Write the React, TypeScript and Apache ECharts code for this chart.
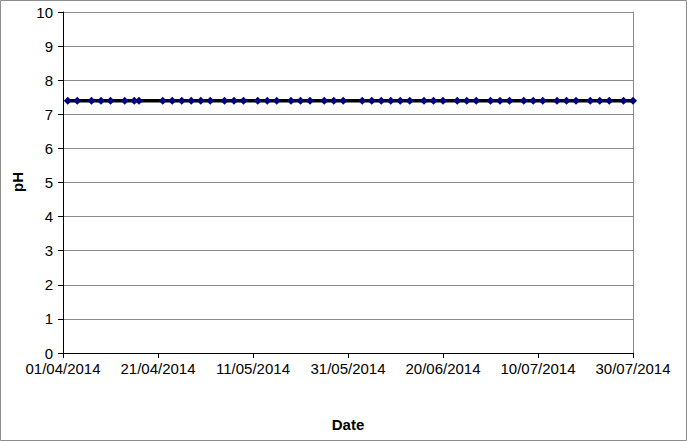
import React, { useEffect, useRef } from "react";
import * as echarts from "echarts";

const sampleDates: string[] = [
  "2014-04-02", "2014-04-04", "2014-04-07", "2014-04-09", "2014-04-11", "2014-04-14",
  "2014-04-16", "2014-04-17", "2014-04-22", "2014-04-24", "2014-04-26", "2014-04-28",
  "2014-04-30", "2014-05-02", "2014-05-05", "2014-05-07", "2014-05-09", "2014-05-12",
  "2014-05-14", "2014-05-16", "2014-05-19", "2014-05-21", "2014-05-23", "2014-05-26",
  "2014-05-28", "2014-05-30", "2014-06-03", "2014-06-05", "2014-06-07", "2014-06-09",
  "2014-06-11", "2014-06-13", "2014-06-16", "2014-06-18", "2014-06-20", "2014-06-23",
  "2014-06-25", "2014-06-27", "2014-06-30", "2014-07-02", "2014-07-04", "2014-07-07",
  "2014-07-09", "2014-07-11", "2014-07-14", "2014-07-16", "2014-07-18", "2014-07-21",
  "2014-07-23", "2014-07-25", "2014-07-28", "2014-07-30",
];

const phValues: number[] = [
  7.4, 7.4, 7.4, 7.4, 7.4, 7.4, 7.4, 7.4, 7.4, 7.4, 7.4, 7.4, 7.4,
  7.4, 7.4, 7.4, 7.4, 7.4, 7.4, 7.4, 7.4, 7.4, 7.4, 7.4, 7.4, 7.4,
  7.4, 7.4, 7.4, 7.4, 7.4, 7.4, 7.4, 7.4, 7.4, 7.4, 7.4, 7.4, 7.4,
  7.4, 7.4, 7.4, 7.4, 7.4, 7.4, 7.4, 7.4, 7.4, 7.4, 7.4, 7.4, 7.4,
];

const axisStart = "2014-04-01";
const axisEnd = "2014-07-30";
const tickStepDays = 20;
const yMin = 0;
const yMax = 10;
const yStep = 1;

const DAY = 86400000;
const toDay = (s: string) => {
  const [y, m, d] = s.split("-").map(Number);
  return Math.round((Date.UTC(y, m - 1, d) - Date.UTC(2014, 3, 1)) / DAY);
};
const fmtDay = (v: number) => {
  const dt = new Date(Date.UTC(2014, 3, 1) + v * DAY);
  const dd = String(dt.getUTCDate()).padStart(2, "0");
  const mm = String(dt.getUTCMonth() + 1).padStart(2, "0");
  return `${dd}/${mm}/${dt.getUTCFullYear()}`;
};

const FONT = "'Liberation Sans', Arial, sans-serif";

export default function App() {
  const ref = useRef<HTMLDivElement>(null);
  useEffect(() => {
    if (!ref.current) return;
    const chart = echarts.init(ref.current, undefined, { renderer: "svg" });
    const data = sampleDates.map((d, i) => [toDay(d), phValues[i]]);
    chart.setOption({
      animation: false,
      backgroundColor: "#ffffff",
      textStyle: { fontFamily: FONT },
      grid: { left: 63, top: 12, right: 54, bottom: 88, containLabel: false },
      graphic: [
        {
          type: "rect",
          shape: { x: 0.5, y: 0.5, width: 686, height: 440 },
          style: { fill: "none", stroke: "#8c8c8c", lineWidth: 1 },
          silent: true,
        },
        {
          type: "text",
          x: 348,
          y: 424,
          style: { text: "Date", font: `bold 15px ${FONT}`, fill: "#000", align: "center", verticalAlign: "middle" },
        },
        {
          type: "text",
          x: 17,
          y: 182,
          rotation: Math.PI / 2,
          style: { text: "pH", font: `bold 15px ${FONT}`, fill: "#000", align: "center", verticalAlign: "middle" },
        },
      ],
      xAxis: {
        type: "value",
        min: toDay(axisStart),
        max: toDay(axisEnd),
        interval: tickStepDays,
        axisLine: { show: true, onZero: false, lineStyle: { color: "#000", width: 1 } },
        axisTick: { show: true, length: 5, lineStyle: { color: "#000" } },
        axisLabel: {
          formatter: (v: number) => fmtDay(v),
          color: "#000",
          fontSize: 15,
          fontFamily: FONT,
          margin: 8,
          showMaxLabel: true,
          showMinLabel: true,
        },
        splitLine: { show: false },
      },
      yAxis: [
        {
          type: "value",
          min: yMin,
          max: yMax,
          interval: yStep,
          axisLine: { show: true, lineStyle: { color: "#000", width: 1 } },
          axisTick: { show: true, length: 5, lineStyle: { color: "#000" } },
          axisLabel: { color: "#000", fontSize: 15, fontFamily: FONT, margin: 10 },
          splitLine: { show: true, lineStyle: { color: "#8c8c8c", width: 1 } },
        },
        {
          type: "value",
          position: "right",
          min: yMin,
          max: yMax,
          interval: yStep,
          axisLine: { show: true, lineStyle: { color: "#8c8c8c", width: 1 } },
          axisTick: { show: false },
          axisLabel: { show: false },
          splitLine: { show: false },
        },
      ],
      series: [
        {
          type: "line",
          name: "pH",
          data,
          yAxisIndex: 0,
          symbol: "diamond",
          symbolSize: 8,
          itemStyle: { color: "#000080" },
          lineStyle: { color: "#000", width: 3.5 },
          z: 3,
        },
      ],
    });
    return () => chart.dispose();
  }, []);
  return (
    <div
      ref={ref}
      style={{ position: "fixed", left: 0, top: 0, width: 687, height: 441 }}
    />
  );
}
